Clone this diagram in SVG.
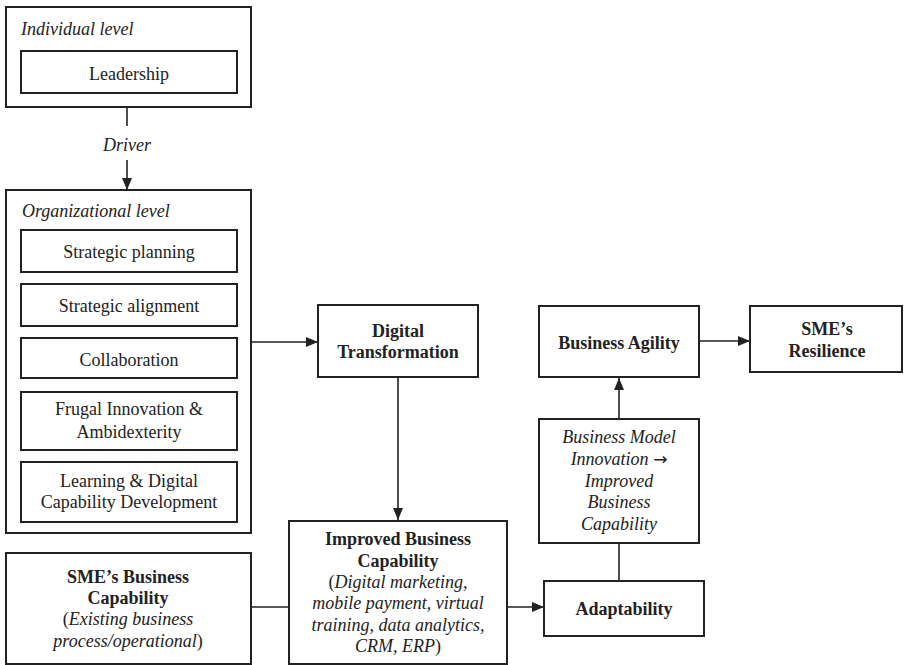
<svg xmlns="http://www.w3.org/2000/svg" width="904" height="665" viewBox="0 0 904 665">
<defs>
<style>
.box{fill:#fff;stroke:#222;stroke-width:2}
.ln{fill:none;stroke:#222;stroke-width:1.6}
text{font-family:"Liberation Serif","Times New Roman",serif;font-size:18px;fill:#222}
.c{text-anchor:middle}
.b{font-weight:bold}
.i{font-style:italic}
.arw{font-family:"DejaVu Sans",sans-serif;font-style:normal;font-size:17px}
</style>
<marker id="ah" markerUnits="userSpaceOnUse" markerWidth="12" markerHeight="12" viewBox="0 0 12 12" refX="12" refY="6" orient="auto">
<path d="M0,1 L12,6 L0,11 Z" fill="#222"/>
</marker>
</defs>
<rect width="904" height="665" fill="#fff"/>
<g id="connectors">
<line class="ln" x1="127" y1="107" x2="127" y2="126"/>
<line class="ln" x1="127" y1="160" x2="127" y2="190" marker-end="url(#ah)"/>
<line class="ln" x1="251" y1="342" x2="318" y2="342" marker-end="url(#ah)"/>
<line class="ln" x1="398" y1="377" x2="398" y2="520" marker-end="url(#ah)"/>
<line class="ln" x1="251" y1="607" x2="289" y2="607"/>
<line class="ln" x1="507" y1="607" x2="544" y2="607" marker-end="url(#ah)"/>
<line class="ln" x1="619" y1="581" x2="619" y2="543"/>
<line class="ln" x1="619" y1="419" x2="619" y2="378" marker-end="url(#ah)"/>
<line class="ln" x1="699" y1="341" x2="750" y2="341" marker-end="url(#ah)"/>
</g>
<g id="individual-level">
<rect class="box" x="6" y="7" width="245" height="100"/>
<text class="i" x="21" y="35">Individual level</text>
</g>
<g id="leadership">
<rect class="box" x="21" y="51" width="216" height="42"/>
<text class="c" x="129" y="80">Leadership</text>
</g>
<g id="driver-label">
<text class="c i" x="127" y="151">Driver</text>
</g>
<g id="organizational-level">
<rect class="box" x="6" y="190" width="245" height="343"/>
<text class="i" x="22" y="217">Organizational level</text>
</g>
<g id="strategic-planning">
<rect class="box" x="21" y="230" width="216" height="42"/>
<text class="c" x="129" y="258">Strategic planning</text>
</g>
<g id="strategic-alignment">
<rect class="box" x="21" y="284" width="216" height="42"/>
<text class="c" x="129" y="312">Strategic alignment</text>
</g>
<g id="collaboration">
<rect class="box" x="21" y="338" width="216" height="40"/>
<text class="c" x="129" y="366">Collaboration</text>
</g>
<g id="frugal-innovation">
<rect class="box" x="21" y="392" width="216" height="58"/>
<text class="c" x="129" y="415">Frugal Innovation &amp;</text>
<text class="c" x="129" y="438">Ambidexterity</text>
</g>
<g id="learning">
<rect class="box" x="21" y="462" width="216" height="60"/>
<text class="c" x="129" y="487">Learning &amp; Digital</text>
<text class="c" x="129" y="508">Capability Development</text>
</g>
<g id="sme-business-capability">
<rect class="box" x="6" y="553" width="245" height="111"/>
<text class="c b" x="128" y="583">SME’s Business</text>
<text class="c b" x="128" y="604">Capability</text>
<text class="c" x="128" y="625">(<tspan class="i">Existing business</tspan></text>
<text class="c" x="128" y="647"><tspan class="i">process/operational</tspan>)</text>
</g>
<g id="digital-transformation">
<rect class="box" x="318" y="305" width="160" height="72"/>
<text class="c b" x="398" y="337">Digital</text>
<text class="c b" x="398" y="358">Transformation</text>
</g>
<g id="improved-business-capability">
<rect class="box" x="289" y="521" width="218" height="143"/>
<text class="c b" x="398" y="545">Improved Business</text>
<text class="c b" x="398" y="567">Capability</text>
<text class="c" x="398" y="588">(<tspan class="i">Digital marketing,</tspan></text>
<text class="c i" x="398" y="609">mobile payment, virtual</text>
<text class="c i" x="398" y="631">training, data analytics,</text>
<text class="c" x="398" y="652"><tspan class="i">CRM, ERP</tspan>)</text>
</g>
<g id="business-agility">
<rect class="box" x="539" y="306" width="160" height="71"/>
<text class="c b" x="619" y="349">Business Agility</text>
</g>
<g id="sme-resilience">
<rect class="box" x="750" y="306" width="152" height="66"/>
<text class="c b" x="827" y="335">SME’s</text>
<text class="c b" x="827" y="357">Resilience</text>
</g>
<g id="business-model-innovation">
<rect class="box" x="539" y="419" width="160" height="124"/>
<text class="c i" x="619" y="443">Business Model</text>
<text class="c i" x="619" y="465">Innovation <tspan class="arw">→</tspan></text>
<text class="c i" x="619" y="487">Improved</text>
<text class="c i" x="619" y="508">Business</text>
<text class="c i" x="619" y="530">Capability</text>
</g>
<g id="adaptability">
<rect class="box" x="544" y="581" width="160" height="55"/>
<text class="c b" x="624" y="615">Adaptability</text>
</g>
</svg>
